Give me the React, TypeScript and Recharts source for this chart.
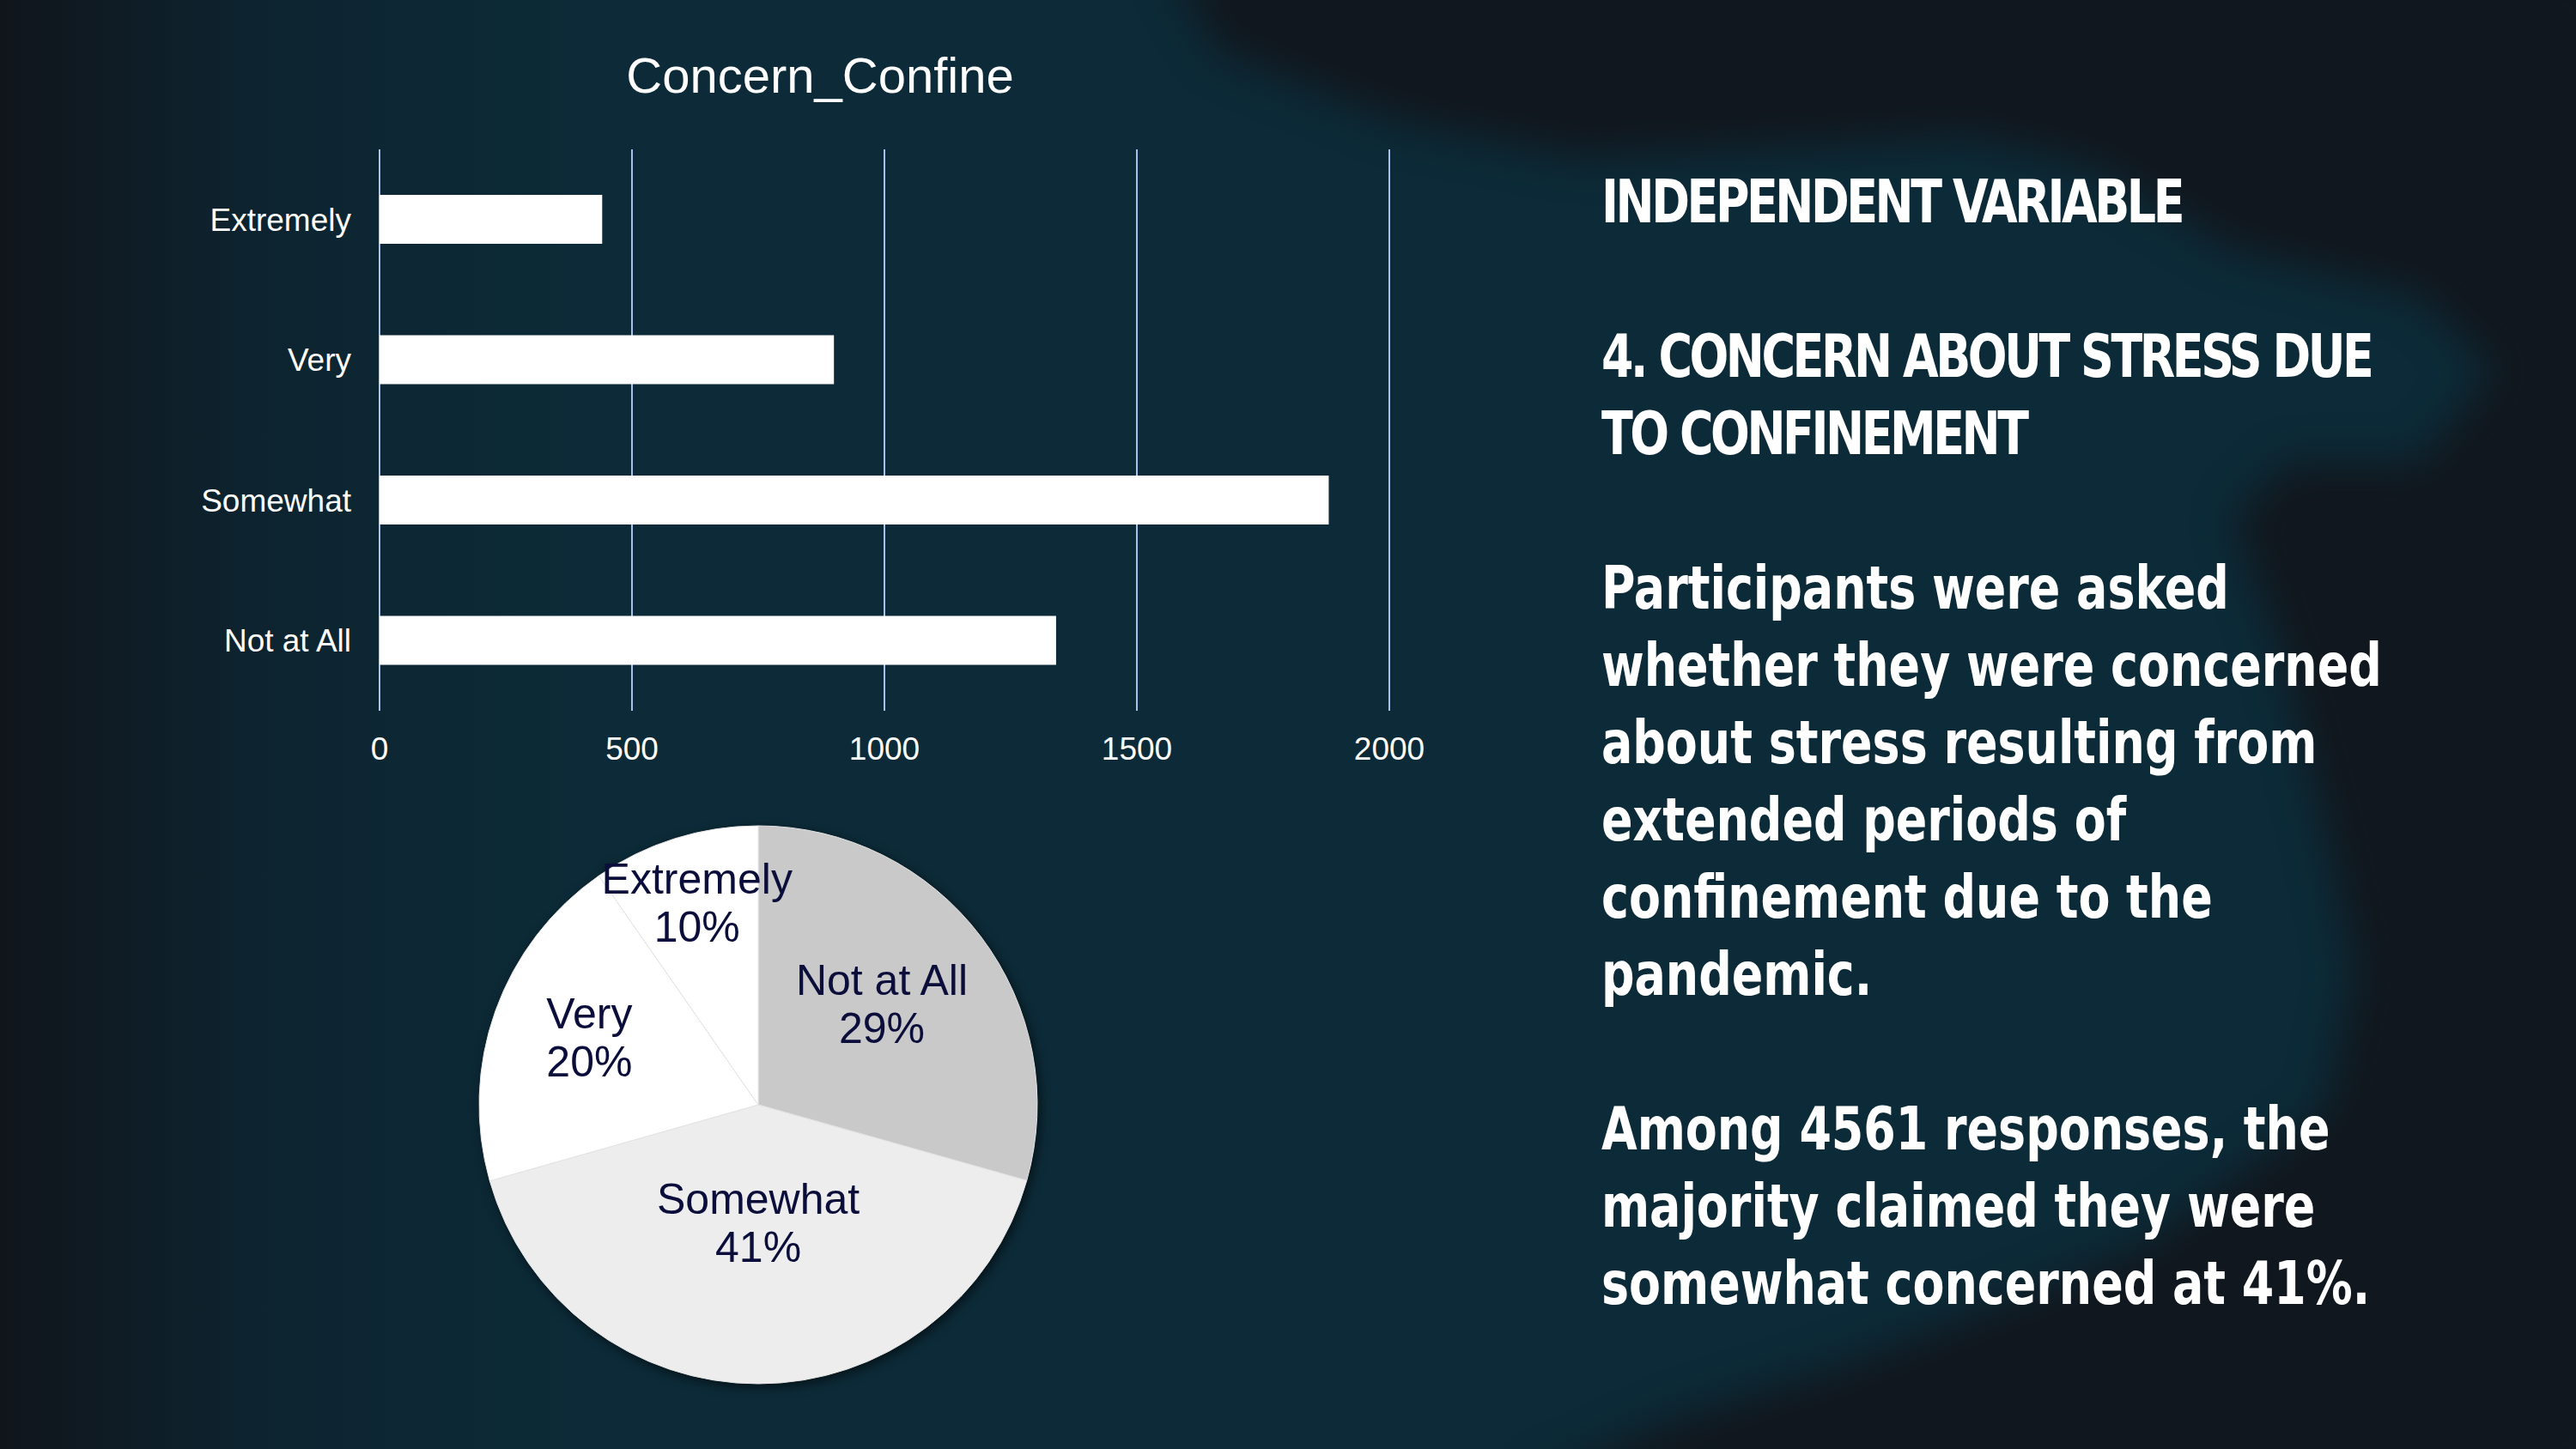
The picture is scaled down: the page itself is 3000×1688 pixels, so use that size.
import React from 'react';
import { BarChart, Bar, XAxis, YAxis, CartesianGrid, PieChart, Pie, Cell } from 'recharts';

// categories in the order the pie starts at 12 o'clock, bottom-up for the bars
const categories = ['Not at All', 'Somewhat', 'Very', 'Extremely'];
const counts = [1340, 1880, 900, 441];
const sliceColors = ['#c9c9c9', '#ededed', '#ffffff', '#ffffff'];
const xTicks = [0, 500, 1000, 1500, 2000];

const chartTitle = 'Concern_Confine';
const headingLines = ['INDEPENDENT VARIABLE', '', '4. CONCERN ABOUT STRESS DUE', 'TO CONFINEMENT'];
const bodyLines = [
    '',
    'Participants were asked',
    'whether they were concerned',
    'about stress resulting from',
    'extended periods of',
    'confinement due to the',
    'pandemic.',
    '',
    'Among 4561 responses, the',
    'majority claimed they were',
    'somewhat concerned at 41%.',
];

const data = categories.map((name, i) => ({ name, value: counts[i] }));

const RADIAN = Math.PI / 180;
const FONT = 'Liberation Sans, Arial, sans-serif';

const PieLabel = (props: any) => {
    const { cx, cy, midAngle, outerRadius, percent, name } = props;
    // bigger slices get their label nearer the centre, like Excel's best fit
    const r = outerRadius * (0.82 - percent * 0.9);
    const x = cx + r * Math.cos(-midAngle * RADIAN);
    const y = cy + r * Math.sin(-midAngle * RADIAN);
    return (
        <text x={x} y={y} fill="#0b0d3a" textAnchor="middle" fontSize={50} fontFamily={FONT}>
            <tspan x={x} dy={-19}>{name}</tspan>
            <tspan x={x} dy={56}>{`${Math.round(percent * 100)}%`}</tspan>
        </text>
    );
};

const Background = () => (
    <svg width={3000} height={1688} style={{ position: 'absolute', left: 0, top: 0 }}>
        <defs>
            <linearGradient id="leftShade" x1="0" y1="0" x2="1" y2="0">
                <stop offset="0" stopColor="#10151b" />
                <stop offset="0.1" stopColor="#0d2430" />
                <stop offset="0.22" stopColor="#0c2a37" />
                <stop offset="1" stopColor="#0c2b38" />
            </linearGradient>
            <filter id="soft" x="-10%" y="-10%" width="120%" height="120%" colorInterpolationFilters="sRGB">
                <feGaussianBlur stdDeviation="24" />
            </filter>
        </defs>
        <rect x={0} y={0} width={3000} height={1688} fill="url(#leftShade)" />
        <polygon
            points="1362,-40 1420,60 1625,140 1842,183 2100,170 2300,160 2438,194 2601,291 2818,345 2904,431 2818,538 2666,538 2601,603 2655,754 2709,969 2742,1131 2709,1292 2492,1454 2150,1590 1960,1650 1780,1730 3040,1730 3040,-40"
            fill="#11171e"
            filter="url(#soft)"
        />
    </svg>
);

const textStyle: React.CSSProperties = {
    fontFamily: '"DejaVu Sans Condensed", "DejaVu Sans", sans-serif',
    fontWeight: 'bold',
    fontSize: 70,
    lineHeight: '90px',
    whiteSpace: 'pre',
    height: 90,
};

export default function App() {
    return (
        <div style={{ position: 'absolute', left: 0, top: 0, width: 3000, height: 1688, overflow: 'hidden' }}>
            <Background />

            <div
                style={{
                    position: 'absolute', left: 0, top: 55, width: 1910, textAlign: 'center',
                    color: '#ffffff', fontSize: 58, fontFamily: FONT, lineHeight: '66px',
                }}
            >
                {chartTitle}
            </div>

            <div style={{ position: 'absolute', left: 0, top: 0 }}>
                <BarChart
                    width={1750}
                    height={950}
                    data={data}
                    layout="vertical"
                    margin={{ top: 174, right: 132, bottom: 62, left: 192 }}
                    barSize={57}
                >
                    <CartesianGrid horizontal={false} stroke="#a9c0ec" strokeWidth={2} />
                    <XAxis
                        type="number"
                        domain={[0, 2000]}
                        ticks={xTicks}
                        height={60}
                        axisLine={false}
                        tickLine={false}
                        tickSize={0}
                        tickMargin={31}
                        tick={{ fill: '#ffffff', fontSize: 37, fontFamily: FONT }}
                    />
                    <YAxis
                        type="category"
                        dataKey="name"
                        reversed
                        width={250}
                        axisLine={false}
                        tickLine={false}
                        tickSize={0}
                        tickMargin={33}
                        tick={{ fill: '#ffffff', fontSize: 37, fontFamily: FONT }}
                    />
                    <Bar dataKey="value" fill="#ffffff" isAnimationActive={false} />
                </BarChart>
            </div>

            <div style={{ position: 'absolute', left: 518, top: 922, filter: 'drop-shadow(3px 4px 6px rgba(0,0,0,0.55))' }}>
                <PieChart width={720} height={720}>
                    <Pie
                        data={data}
                        dataKey="value"
                        nameKey="name"
                        cx={360}
                        cy={360}
                        outerRadius={325}
                        startAngle={90}
                        endAngle={-270}
                        stroke="#e4e4e4"
                        strokeWidth={1}
                        label={PieLabel}
                        labelLine={false}
                        isAnimationActive={false}
                    >
                        {data.map((d, i) => (
                            <Cell key={d.name} fill={sliceColors[i]} />
                        ))}
                    </Pie>
                </PieChart>
            </div>

            <div
                style={{
                    position: 'absolute', left: 1865, top: 190, color: '#ffffff',
                    transform: 'scaleX(0.855)', transformOrigin: 'left top',
                }}
            >
                {headingLines.map((line, i) => (
                    <div key={'h' + i} style={{ ...textStyle, letterSpacing: -4 }}>{line}</div>
                ))}
                {bodyLines.map((line, i) => (
                    <div key={'b' + i} style={textStyle}>{line}</div>
                ))}
            </div>
        </div>
    );
}
